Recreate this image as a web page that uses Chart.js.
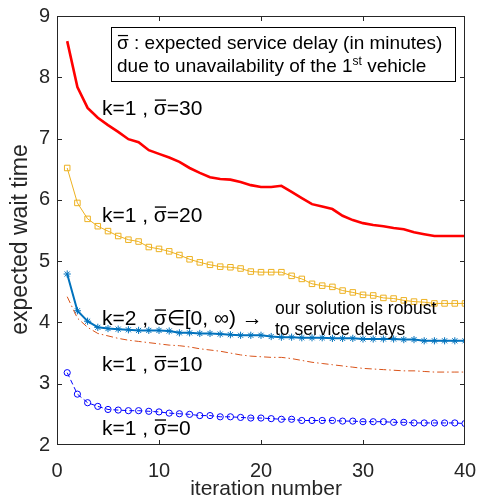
<!DOCTYPE html>
<html>
<head>
<meta charset="utf-8">
<script src="https://cdn.jsdelivr.net/npm/chart.js@4.4.1/dist/chart.umd.min.js"></script>
<style>
    html, body { margin: 0; padding: 0; background: #fff; }
    #grafico { display: block; }
</style>
</head>
<body>
<canvas id="grafico" width="479" height="501"></canvas>
<script>
// iteracoes (eixo x)
const iteracoes = [1, 2, 3, 4, 5, 6, 7, 8, 9, 10, 11, 12, 13, 14, 15, 16, 17, 18, 19, 20,
                   21, 22, 23, 24, 25, 26, 27, 28, 29, 30, 31, 32, 33, 34, 35, 36, 37, 38, 39, 40];

// k=1, sigma=30
const sigma30 = [8.59, 7.84, 7.50, 7.34, 7.22, 7.11, 6.99, 6.94, 6.81, 6.75, 6.69, 6.62, 6.52, 6.44, 6.37, 6.34, 6.33, 6.29, 6.24, 6.21,
                 6.21, 6.23, 6.13, 6.03, 5.93, 5.89, 5.85, 5.74, 5.67, 5.62, 5.59, 5.57, 5.54, 5.52, 5.47, 5.44, 5.41, 5.41, 5.41, 5.41];
// k=1, sigma=20
const sigma20 = [6.52, 5.95, 5.69, 5.57, 5.49, 5.41, 5.35, 5.32, 5.23, 5.20, 5.16, 5.10, 5.03, 4.98, 4.94, 4.91, 4.90, 4.88, 4.83, 4.82,
                 4.82, 4.82, 4.76, 4.71, 4.63, 4.60, 4.58, 4.52, 4.49, 4.45, 4.44, 4.40, 4.39, 4.36, 4.34, 4.33, 4.31, 4.31, 4.31, 4.31];
// k=2, qualquer sigma
const k2 = [4.79, 4.19, 4.02, 3.92, 3.90, 3.89, 3.88, 3.87, 3.87, 3.87, 3.86, 3.83, 3.83, 3.82, 3.82, 3.81, 3.80, 3.79, 3.79, 3.79,
            3.77, 3.76, 3.76, 3.75, 3.75, 3.75, 3.74, 3.74, 3.74, 3.73, 3.73, 3.73, 3.73, 3.72, 3.72, 3.70, 3.70, 3.70, 3.70, 3.70];
// k=1, sigma=10
const sigma10 = [4.42, 4.07, 3.92, 3.82, 3.78, 3.74, 3.71, 3.69, 3.67, 3.65, 3.63, 3.62, 3.60, 3.57, 3.55, 3.53, 3.50, 3.47, 3.45, 3.44,
                 3.43, 3.43, 3.41, 3.38, 3.35, 3.33, 3.31, 3.29, 3.27, 3.25, 3.24, 3.23, 3.22, 3.21, 3.21, 3.20, 3.19, 3.19, 3.19, 3.19];
// k=1, sigma=0
const sigma0 = [3.18, 2.83, 2.69, 2.63, 2.58, 2.57, 2.56, 2.56, 2.55, 2.54, 2.52, 2.51, 2.50, 2.48, 2.48, 2.46, 2.46, 2.45, 2.44, 2.44,
                2.43, 2.42, 2.42, 2.40, 2.40, 2.40, 2.40, 2.39, 2.39, 2.38, 2.38, 2.38, 2.37, 2.37, 2.36, 2.36, 2.36, 2.36, 2.36, 2.35];

const ticksX = [0, 10, 20, 30, 40];
const ticksY = [2, 3, 4, 5, 6, 7, 8, 9];

const corEixo = '#262626';
const fonte = '"Liberation Sans", Arial, sans-serif';
const SIGMA_BARRA = 'σ\u0304';

function pontos(valores) {
    return iteracoes.map((x, i) => ({ x: x, y: valores[i] }));
}

// escreve o texto desenhando a barra sobre o sigma na mao
function textoComBarra(ctx, texto, x, y, tamanho) {
    ctx.font = tamanho + 'px ' + fonte;
    const partes = texto.split(SIGMA_BARRA);
    let cx = x;
    partes.forEach((p, i) => {
        if (i > 0) {
            const ws = ctx.measureText('σ').width;
            ctx.fillText('σ', cx, y);
            ctx.fillRect(cx + ws * 0.08, y - tamanho * 0.74, ws * 0.86, Math.max(1, tamanho * 0.065));
            cx += ws;
        }
        ctx.fillText(p, cx, y);
        cx += ctx.measureText(p).width;
    });
    return cx;
}

// moldura, ticks para dentro e textos
const anotacoes = {
    id: 'anotacoes',
    afterDatasetsDraw(chart) {
        const ctx = chart.ctx;
        const area = chart.chartArea;
        const sx = chart.scales.x;
        const sy = chart.scales.y;

        ctx.save();
        ctx.strokeStyle = corEixo;
        ctx.lineWidth = 1;
        ctx.strokeRect(area.left + 0.5, area.top + 0.5, area.right - area.left - 1, area.bottom - area.top - 1);

        ctx.beginPath();
        ticksX.slice(1, -1).forEach(v => {
            const px = Math.round(sx.getPixelForValue(v)) + 0.5;
            ctx.moveTo(px, area.bottom); ctx.lineTo(px, area.bottom - 5);
            ctx.moveTo(px, area.top); ctx.lineTo(px, area.top + 5);
        });
        ticksY.slice(1, -1).forEach(v => {
            const py = Math.round(sy.getPixelForValue(v)) + 0.5;
            ctx.moveTo(area.left, py); ctx.lineTo(area.left + 5, py);
            ctx.moveTo(area.right, py); ctx.lineTo(area.right - 5, py);
        });
        ctx.stroke();

        // titulos dos eixos
        ctx.fillStyle = corEixo;
        ctx.textAlign = 'center';
        ctx.textBaseline = 'middle';
        ctx.font = '21px ' + fonte;
        ctx.fillText('iteration number', (area.left + area.right) / 2 + 5, 489);
        ctx.save();
        ctx.translate(21, (area.top + area.bottom) / 2 + 9);
        ctx.rotate(-Math.PI / 2);
        ctx.font = '23px ' + fonte;
        ctx.fillText('expected wait time', 0, 0);
        ctx.restore();

        // caixa da legenda
        const bx = area.left + 54, by = area.top + 11;
        ctx.fillStyle = '#fff';
        ctx.fillRect(bx, by, 344, 54);
        ctx.strokeStyle = '#000';
        ctx.strokeRect(bx + 0.5, by + 0.5, 344, 54);

        ctx.fillStyle = '#000';
        ctx.textBaseline = 'alphabetic';
        ctx.textAlign = 'left';
        textoComBarra(ctx, SIGMA_BARRA + ' : expected service delay (in minutes)', bx + 6, by + 22, 19);
        let fim = textoComBarra(ctx, 'due to unavailability of the 1', bx + 6, by + 45, 19);
        ctx.font = '12px ' + fonte;
        ctx.fillText('st', fim, by + 38);
        fim += ctx.measureText('st').width;
        textoComBarra(ctx, ' vehicle', fim, by + 45, 19);

        // rotulos das curvas
        const x0 = sx.getPixelForValue(4.4);
        textoComBarra(ctx, 'k=1 , ' + SIGMA_BARRA + '=30', x0, sy.getPixelForValue(7.385), 21);
        textoComBarra(ctx, 'k=1 , ' + SIGMA_BARRA + '=20', x0, sy.getPixelForValue(5.64), 21);
        textoComBarra(ctx, 'k=2 , ' + SIGMA_BARRA + '∈[0, ∞) →', x0, sy.getPixelForValue(3.96), 21);
        textoComBarra(ctx, 'k=1 , ' + SIGMA_BARRA + '=10', x0, sy.getPixelForValue(3.20), 21);
        textoComBarra(ctx, 'k=1 , ' + SIGMA_BARRA + '=0', x0, sy.getPixelForValue(2.165), 21);

        const x1 = sx.getPixelForValue(21.37);
        textoComBarra(ctx, 'our solution is robust', x1, sy.getPixelForValue(4.14), 17.5);
        textoComBarra(ctx, 'to service delays', x1, sy.getPixelForValue(3.80), 17.5);
        ctx.restore();
    }
};

const grafico = new Chart(document.getElementById('grafico'), {
    type: 'line',
    data: {
        datasets: [
{
    label: 'k=1, sigma=30',
    data: pontos(sigma30),
    borderColor: '#ff0000',
    borderWidth: 2.6,
    pointRadius: 0
},
{
    label: 'k=1, sigma=20',
    data: pontos(sigma20),
    borderColor: '#EDB120',
    borderWidth: 1,
    pointStyle: 'rect',
    pointRadius: 3.9,
    pointBorderWidth: 1,
    pointBackgroundColor: 'rgba(0,0,0,0)',
    pointBorderColor: '#EDB120'
},
{
    label: 'k=1, sigma=10',
    data: pontos(sigma10),
    borderColor: '#D95319',
    borderWidth: 1,
    borderDash: [7, 3, 1.5, 3],
    pointRadius: 0
},
{
    label: 'k=2',
    data: pontos(k2),
    borderColor: '#0072BD',
    borderWidth: 2,
    pointStyle: 'star',
    pointRadius: 3.6,
    pointBorderWidth: 1,
    pointBorderColor: '#0072BD'
},
{
    label: 'k=1, sigma=0',
    data: pontos(sigma0),
    borderColor: '#0000ff',
    borderWidth: 1,
    borderDash: [5, 3],
    pointStyle: 'circle',
    pointRadius: 3.1,
    pointBorderWidth: 1,
    pointBackgroundColor: 'rgba(0,0,0,0)',
    pointBorderColor: '#0000ff'
}
        ]
    },
    options: {
        responsive: false,
        animation: false,
        devicePixelRatio: 1,
        layout: { padding: { top: 16, right: 14, left: 0, bottom: 0 } },
        plugins: {
            legend: { display: false },
            tooltip: { enabled: false }
        },
        elements: { line: { tension: 0 } },
        scales: {
            x: {
                type: 'linear',
                min: 0,
                max: 40,
                afterBuildTicks: (s) => { s.ticks = ticksX.map(v => ({ value: v })); },
                afterFit: (s) => { s.height = 56; s.paddingLeft = 0; s.paddingRight = 0; },
                grid: { display: false, drawTicks: false },
                border: { display: false },
                ticks: { color: corEixo, padding: 14, maxRotation: 0, font: { family: fonte, size: 20 } }
            },
            y: {
                min: 2,
                max: 9,
                afterBuildTicks: (s) => { s.ticks = ticksY.map(v => ({ value: v })); },
                afterFit: (s) => { s.width = 57; s.paddingTop = 0; s.paddingBottom = 0; },
                grid: { display: false, drawTicks: false },
                border: { display: false },
                ticks: { color: corEixo, padding: 7, font: { family: fonte, size: 20 } }
            }
        }
    },
    plugins: [anotacoes]
});
</script>
</body>
</html>
